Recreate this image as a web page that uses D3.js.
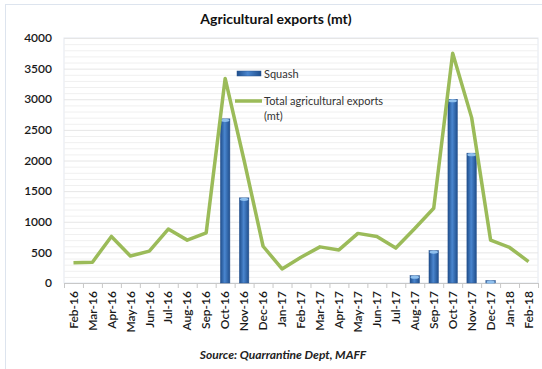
<!DOCTYPE html>
<html><head><meta charset="utf-8">
<script src="https://cdn.jsdelivr.net/npm/d3@7"></script>
<style>body{margin:0;background:#fff;} svg{display:block;font-family:Lato,"Open Sans",sans-serif;}</style>
</head><body><svg id="c" width="542" height="369"></svg>
<script>
const categories = ["Feb-16","Mar-16","Apr-16","May-16","Jun-16","Jul-16","Aug-16","Sep-16","Oct-16","Nov-16","Dec-16","Jan-17","Feb-17","Mar-17","Apr-17","May-17","Jun-17","Jul-17","Aug-17","Sep-17","Oct-17","Nov-17","Dec-17","Jan-18","Feb-18"];
const squash = [0,0,0,0,0,0,0,0,2680,1390,0,0,0,0,0,0,0,0,120,530,3000,2120,40,0,0];
const total = [330,340,760,440,520,880,700,820,3340,2000,600,230,420,590,540,810,760,570,890,1220,3750,2700,700,580,350];
const yTicks = [0,500,1000,1500,2000,2500,3000,3500,4000];
const seriesNames = ["Squash","Total agricultural exports (mt)"];

const svg = d3.select("#c");
const L = 64, R = 538, T = 38, B = 283;
const x = d3.scaleBand().domain(categories).range([L, R]).paddingInner(0.5).paddingOuter(0.25);
const xb = d3.scaleBand().domain(categories).range([L, R]);
const y = d3.scaleLinear().domain([0, 4000]).range([B, T]);

const defs = svg.append("defs");
const g1 = defs.append("linearGradient").attr("id","bar").attr("x1","0").attr("x2","1").attr("y1","0").attr("y2","0");
g1.append("stop").attr("offset","0%").attr("stop-color","#1f4e8c");
g1.append("stop").attr("offset","45%").attr("stop-color","#4a86cf");
g1.append("stop").attr("offset","100%").attr("stop-color","#1f4e8c");

// outer border
svg.append("rect").attr("x",5.5).attr("y",4.5).attr("width",540).attr("height",370).attr("fill","none").attr("stroke","#dde4ee");
// plot area
svg.append("rect").attr("x",L).attr("y",T).attr("width",R-L).attr("height",B-T).attr("fill","none").attr("stroke","#e3e8f0");

// gridlines every 100
svg.append("g").selectAll("line").data(d3.range(100,4001,100)).join("line")
  .attr("x1",L).attr("x2",R).attr("y1",d=>y(d)+0.5).attr("y2",d=>y(d)+0.5)
  .attr("stroke",d=>d%500===0?"#e6e6e6":"#f0f0f0").attr("stroke-width",1);

// y axis labels
svg.append("g").selectAll("text").data(yTicks).join("text")
  .attr("x",52).attr("y",d=>y(d)).attr("dy","0.35em").attr("text-anchor","end")
  .attr("font-size",12).attr("font-weight",600).attr("fill","#1a1a1a").text(d=>d);

// x axis
const xa = svg.append("g").attr("transform",`translate(0,${B})`);
xa.append("line").attr("x1",L).attr("x2",R).attr("y1",0.5).attr("y2",0.5).attr("stroke","#c8c8c8");
xa.selectAll("line.t").data(categories.concat(["end"])).join("line").attr("class","t")
  .attr("x1",(d,i)=>i<categories.length? xb(d)+0.5 : R+0.5).attr("x2",(d,i)=>i<categories.length? xb(d)+0.5 : R+0.5)
  .attr("y1",0).attr("y2",5).attr("stroke","#c8c8c8");
xa.selectAll("text").data(categories).join("text")
  .attr("transform",d=>`translate(${xb(d)+xb.bandwidth()/2},8) rotate(-90)`)
  .attr("text-anchor","end").attr("dy","0.35em").attr("font-size",12).attr("font-weight",600).attr("fill","#1a1a1a").text(d=>d);

// bars
const bars = svg.append("g");
categories.forEach((c,i)=>{
  const v = squash[i]; if(!v) return;
  bars.append("rect").attr("x",x(c)).attr("y",y(v)).attr("width",x.bandwidth()).attr("height",B-y(v))
    .attr("fill","url(#bar)").attr("stroke","#2b5590").attr("stroke-width",0.5);
  bars.append("ellipse").attr("cx",x(c)+x.bandwidth()/2).attr("cy",y(v)+1.5).attr("rx",x.bandwidth()/2-0.5).attr("ry",1.6).attr("fill","#8fc0ee");
});

// line
svg.append("path").datum(total)
  .attr("d",d3.line().x((d,i)=>xb(categories[i])+xb.bandwidth()/2).y(d=>y(d)))
  .attr("fill","none").attr("stroke","#9bbb59").attr("stroke-width",3.5).attr("stroke-linejoin","round");

// legend
const lg = svg.append("g");
lg.append("rect").attr("x",237).attr("y",71).attr("width",24).attr("height",5).attr("fill","url(#bar)").attr("stroke","#2b5590").attr("stroke-width",0.5);
lg.append("text").attr("x",264).attr("y",74).attr("dy","0.35em").attr("font-size",11).attr("fill","#333").text(seriesNames[0]);
lg.append("line").attr("x1",235).attr("x2",262).attr("y1",101).attr("y2",101).attr("stroke","#9bbb59").attr("stroke-width",3.5);
lg.append("text").attr("x",264).attr("y",101).attr("dy","0.35em").attr("font-size",11).attr("fill","#333").text("Total agricultural exports");
lg.append("text").attr("x",264).attr("y",116).attr("dy","0.35em").attr("font-size",11).attr("fill","#333").text("(mt)");

// title
svg.append("text").attr("x",276).attr("y",19).attr("dy","0.35em").attr("text-anchor","middle")
  .attr("font-size",14).attr("font-weight",700).attr("fill","#111").text("Agricultural exports (mt)");
// source
svg.append("text").attr("x",283).attr("y",355).attr("dy","0.35em").attr("text-anchor","middle")
  .attr("font-size",12).attr("font-weight",700).attr("font-style","italic").attr("fill","#222").text("Source: Quarrantine Dept, MAFF");
</script></body></html>
